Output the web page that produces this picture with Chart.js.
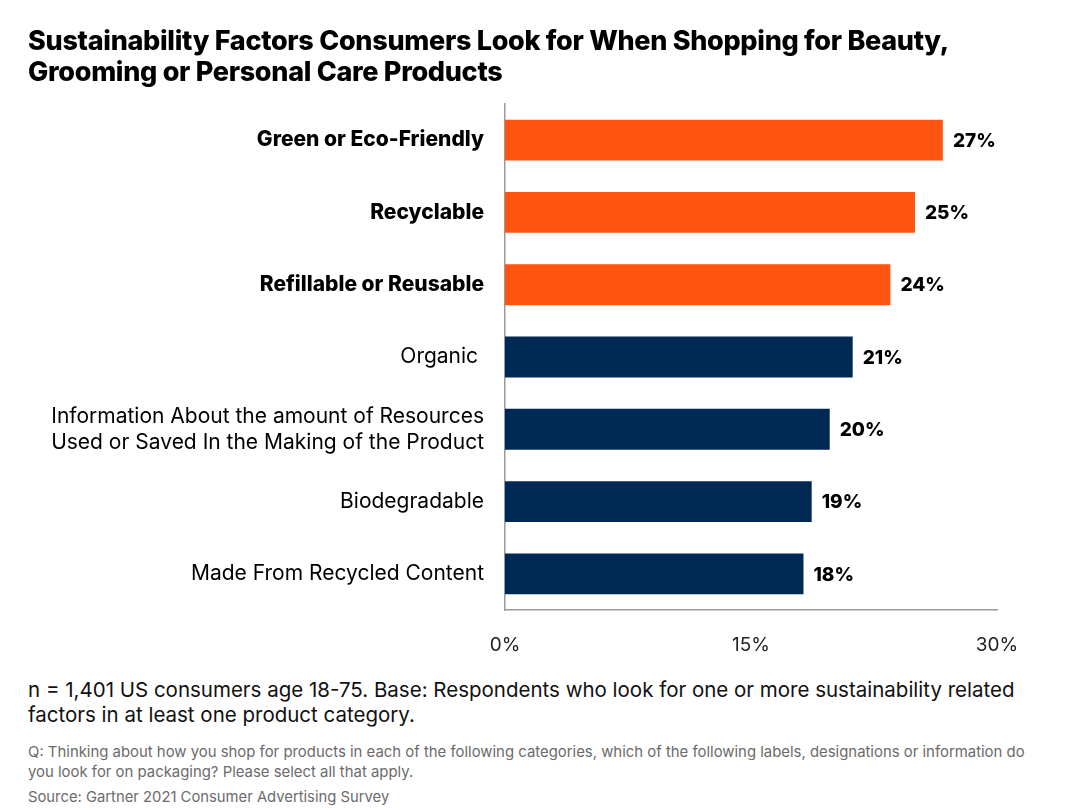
<!DOCTYPE html>
<html>
<head>
<meta charset="utf-8">
<script src="https://cdn.jsdelivr.net/npm/chart.js@4.4.1/dist/chart.umd.min.js"></script>
<style>
  body { margin:0; width:1080px; height:810px; background:#fff; font-family:Inter, "Open Sans", sans-serif; position:relative; overflow:hidden; }
  #title { position:absolute; left:28px; top:25px; font-size:27px; font-weight:800; line-height:31px; color:#000; letter-spacing:-0.3px; z-index:2; }
  #wrap { position:absolute; left:0; top:70px; width:1080px; height:595px; }
  #note { position:absolute; left:28px; top:677px; font-size:20.5px; line-height:25px; color:#111; }
  #q { position:absolute; left:28px; top:742px; font-size:14.9px; line-height:20px; color:#6b6b6b; }
  #src { position:absolute; left:28px; top:787px; font-size:14.8px; line-height:20px; color:#6b6b6b; }
</style>
</head>
<body>
<div id="title">Sustainability Factors Consumers Look for When Shopping for Beauty,<br>Grooming or Personal Care Products</div>
<div id="wrap"><canvas id="myChart"></canvas></div>
<div id="note">n = 1,401 US consumers age 18-75. Base: Respondents who look for one or more sustainability related<br>factors in at least one product category.</div>
<div id="q">Q: Thinking about how you shop for products in each of the following categories, which of the following labels, designations or information do<br>you look for on packaging? Please select all that apply.</div>
<div id="src">Source: Gartner 2021 Consumer Advertising Survey</div>
<script>
const categories = [
  'Green or Eco-Friendly',
  'Recyclable',
  'Refillable or Reusable',
  'Organic ',
  ['Information About the amount of Resources', 'Used or Saved In the Making of the Product'],
  'Biodegradable',
  'Made From Recycled Content'
];
const values = [26.7, 25.0, 23.5, 21.2, 19.8, 18.7, 18.2];
const valueLabels = ['27%', '25%', '24%', '21%', '20%', '19%', '18%'];
const highlighted = [true, true, true, false, false, false, false];
const xTicks = [0, 15, 30];

const orange = '#FF5511';
const navy = '#002855';

// labels at the end of each bar
const barLabels = {
  id: 'barLabels',
  afterDatasetsDraw(chart) {
    const c = chart.ctx;
    const meta = chart.getDatasetMeta(0);
    c.save();
    c.font = '800 19px Inter';
    c.fillStyle = '#000';
    c.textBaseline = 'middle';
    c.textAlign = 'left';
    meta.data.forEach((bar, i) => {
      c.fillText(valueLabels[i], bar.x + 10, bar.y + 1);
    });
    c.restore();
  }
};

document.addEventListener('DOMContentLoaded', () => {
  const ctx = document.getElementById('myChart').getContext('2d');
  new Chart(ctx, {
    type: 'bar',
    data: {
      labels: categories,
      datasets: [{
        data: values,
        backgroundColor: highlighted.map(h => h ? orange : navy),
        borderWidth: 0,
        barPercentage: 0.565,
        categoryPercentage: 1
      }]
    },
    options: {
      indexAxis: 'y',
      responsive: true,
      maintainAspectRatio: false,
      animation: false,
      layout: { padding: { top: 8, right: 83, left: 0, bottom: 0 } },
      plugins: { legend: { display: false }, tooltip: { enabled: false } },
      scales: {
        x: {
          min: 0, max: 30,
          afterBuildTicks: axis => { axis.ticks = xTicks.map(v => ({ value: v })); },
          grid: { display: false, drawTicks: false },
          border: { display: true, color: '#9a9a9a', width: 1.5 },
          ticks: {
            padding: 24,
            color: '#222',
            font: { family: 'Inter', size: 19 },
            callback: v => v + '%'
          },
          afterFit: axis => { axis.height = 55; }
        },
        y: {
          grid: { display: false, drawTicks: false },
          border: { display: true, color: '#9a9a9a', width: 1.5 },
          ticks: {
            padding: 21,
            color: '#000',
            font: c => ({ family: 'Inter', size: 21, weight: highlighted[c.index] ? '800' : '400', lineHeight: 1.24 })
          },
          afterFit: axis => { axis.width = 505; }
        }
      }
    },
    plugins: [barLabels]
  });
});
</script>
</body>
</html>
